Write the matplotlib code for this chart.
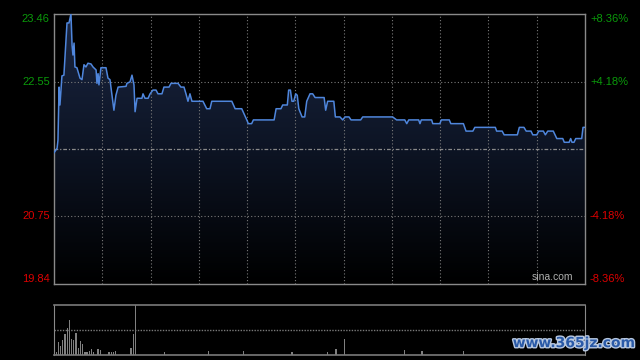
import numpy as np
import matplotlib
matplotlib.use("Agg")
import matplotlib.pyplot as plt
import matplotlib.patheffects as pe
from matplotlib.colors import LinearSegmentedColormap

plt.rcParams['font.family'] = ['Liberation Sans', 'DejaVu Sans']

# minute-of-session and price at each turning point of the intraday line
minutes = [0, 1.4, 1.8, 2.3, 2.7, 3.6, 4.5, 5.9, 6.8, 7.7,
           8.2, 8.6, 9.1, 9.5, 10.4, 11.8, 12.7, 13.6, 14.5, 15.4,
           16.8, 17.7, 19.1, 19.5, 20.0, 20.4, 20.9, 21.3, 23.6, 24.5,
           25.4, 26.3, 27.2, 28.1, 29.1, 32.7, 33.1, 34.5, 35.4, 36.3,
           36.8, 37.7, 39.9, 40.4, 41.3, 42.7, 43.6, 44.9, 46.3, 47.2,
           49.0, 49.9, 52.2, 53.1, 56.3, 57.6, 59.0, 59.9, 60.8, 61.7,
           62.6, 67.6, 69.3, 70.8, 71.6, 80.7, 82.2, 85.2, 87.5, 88.2,
           89.7, 90.5, 99.9, 100.8, 103.0, 103.8, 105.9, 106.5, 107.3, 108.0,
           108.8, 109.7, 110.4, 111.1, 112.6, 113.8, 114.7, 116.2, 117.4, 118.5,
           122.6, 123.3, 124.2, 127.0, 127.7, 129.8, 131.0, 132.1, 133.9, 134.8,
           139.2, 140.1, 153.7, 155.5, 159.2, 160.1, 161.0, 165.5, 166.1, 166.7,
           171.4, 171.9, 175.1, 175.8, 179.4, 180.1, 185.8, 187.0, 190.1, 191.0,
           200.3, 200.9, 203.4, 204.3, 210.3, 211.2, 213.3, 214.3, 216.5, 217.3,
           219.1, 220.0, 222.1, 223.0, 224.1, 226.6, 228.2, 230.9, 231.6, 233.8,
           234.5, 235.1, 236.0, 236.8, 239.5, 240.1, 241]
prices = [21.60, 21.66, 21.77, 22.48, 22.24, 22.63, 22.64, 23.34, 23.34, 23.46,
          23.04, 22.91, 23.07, 22.75, 22.74, 22.60, 22.58, 22.78, 22.75, 22.80,
          22.79, 22.75, 22.71, 22.53, 22.66, 22.51, 22.64, 22.74, 22.74, 22.60,
          22.58, 22.37, 22.17, 22.37, 22.48, 22.49, 22.53, 22.55, 22.64, 22.51,
          22.15, 22.33, 22.33, 22.39, 22.33, 22.33, 22.39, 22.44, 22.44, 22.39,
          22.39, 22.48, 22.48, 22.53, 22.53, 22.48, 22.48, 22.39, 22.29, 22.39,
          22.29, 22.29, 22.19, 22.19, 22.29, 22.29, 22.19, 22.19, 22.04, 21.99,
          21.99, 22.04, 22.04, 22.19, 22.19, 22.24, 22.24, 22.44, 22.44, 22.29,
          22.29, 22.39, 22.37, 22.19, 22.08, 22.08, 22.29, 22.39, 22.39, 22.34,
          22.34, 22.17, 22.29, 22.29, 22.08, 22.08, 22.04, 22.08, 22.08, 22.04,
          22.04, 22.08, 22.08, 22.04, 22.04, 21.99, 22.04, 22.04, 21.99, 22.04,
          22.04, 21.99, 21.99, 22.04, 22.04, 21.99, 21.99, 21.89, 21.89, 21.94,
          21.94, 21.89, 21.89, 21.84, 21.84, 21.94, 21.94, 21.89, 21.89, 21.84,
          21.84, 21.89, 21.89, 21.84, 21.89, 21.89, 21.79, 21.79, 21.74, 21.74,
          21.79, 21.74, 21.74, 21.79, 21.79, 21.94, 21.94]

prev_close = 21.65
price_ticks = [23.46, 22.55, 20.75, 19.84]
price_labels = ["23.46", "22.55", "20.75", "19.84"]
pct_labels = ["+8.36%", "+4.18%", "-4.18%", "-8.36%"]

# volume bars (minute, lots)
vol_minutes = [0, 1, 2, 3, 4, 5, 6, 7, 8, 9, 10, 11, 12, 13, 14, 15, 16, 17, 18,
               20, 21, 25, 26, 27, 28, 35, 36, 37, 50, 70, 86, 108, 124, 128, 132,
               159, 167, 186]
volumes = [450, 220, 1280, 880, 1450, 2050, 2620, 3450, 1550, 1450, 2120, 680,
           1380, 1050, 280, 280, 380, 550, 220,
           550, 450, 280, 220, 280, 380, 620, 2050, 4950, 280, 380, 380, 220, 220,
           550, 1550, 450, 400, 350]

n_min = 241
grid_col = "#7a7a7a"
green = "#0a9a0a"
red = "#dd0000"

fig = plt.figure(figsize=(6.4, 3.6), dpi=100, facecolor="black")
ax = fig.add_axes([54 / 640, 76 / 360, 531 / 640, 270 / 360], facecolor="black")
axv = fig.add_axes([54 / 640, 5.5 / 360, 531 / 640, 49.5 / 360], facecolor="black")

ymin, ymax = price_ticks[-1], price_ticks[0]
ax.set_xlim(0, n_min)
ax.set_ylim(ymin, ymax)

# gradient fill under the price line
cmap = LinearSegmentedColormap.from_list("fill", ["#000000", "#0d1424", "#1a2642"])
grad = np.linspace(0, 1, 256).reshape(-1, 1)
im = ax.imshow(grad, extent=[0, n_min, ymin, ymax], origin="lower", aspect="auto",
               cmap=cmap, zorder=1)
poly = ax.fill_between(minutes, prices, ymin, facecolor="none", edgecolor="none")
im.set_clip_path(poly.get_paths()[0], transform=ax.transData)

ax.plot(minutes, prices, color="#4f86dc", lw=1.1, zorder=4)

# grid
for k in range(1, 11):
    ax.axvline(n_min * k / 11, color=grid_col, lw=0.8, ls=(0, (1, 2)), zorder=2)
for y in price_ticks[1:3]:
    ax.axhline(y, color=grid_col, lw=0.8, ls=(0, (1, 2)), zorder=2)
ax.axhline(prev_close, color="#8a8a8a", lw=0.9, ls=(0, (3, 1.5, 1, 1.5)), zorder=2)

ax.set_xticks([])
ax.set_yticks([])
for s in ax.spines.values():
    s.set_color("#8a8a8a")
    s.set_linewidth(1)

vas = ["top", "center", "center", "bottom"]
for y, lab, pl, va in zip(price_ticks, price_labels, pct_labels, vas):
    c = green if y > prev_close else red
    ax.text(-0.008, y, lab, transform=ax.get_yaxis_transform(), ha="right", va=va,
            color=c, fontsize=8)
    ax.text(1.0094, y, pl, transform=ax.get_yaxis_transform(), ha="left", va=va,
            color=c, fontsize=8)

ax.text(0.977, 0.006, "sina.com", transform=ax.transAxes, ha="right", va="bottom",
        color="#b0b0b0", fontsize=7.5, zorder=5)

# volume panel
axv.bar(vol_minutes, volumes, width=0.6, color="#808080", linewidth=0)
axv.set_xlim(0, n_min)
axv.set_ylim(0, max(volumes))
axv.axhline(max(volumes) / 2, color=grid_col, lw=1, ls=(0, (1, 1)))
axv.set_xticks([])
axv.set_yticks([])
for side in ["left", "right"]:
    axv.spines[side].set_color("#8a8a8a")
for side in ["top", "bottom"]:
    axv.spines[side].set_color(grid_col)
    axv.spines[side].set_linestyle((0, (1, 1)))
    axv.spines[side].set_linewidth(1.2)

fig.text(0.992, 0.047, "www.365jz.com", ha="right", va="center", color="#2a5aa8",
         fontsize=10, fontweight="bold", family="DejaVu Sans",
         path_effects=[pe.withStroke(linewidth=2, foreground="#b8c8e0")])

fig.savefig("out.png", dpi=100, facecolor="black")
